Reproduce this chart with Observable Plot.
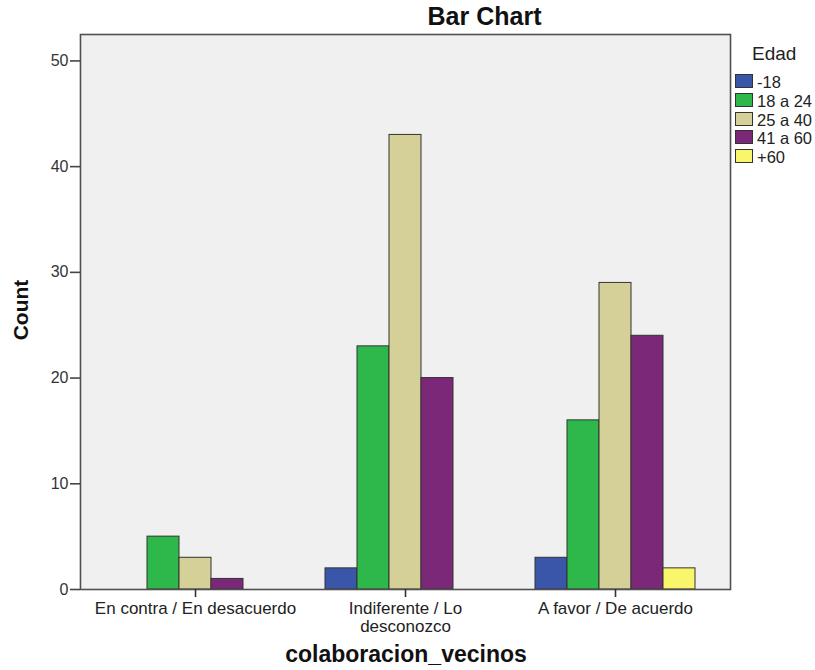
<!DOCTYPE html>
<html>
<head>
<meta charset="utf-8">
<script src="https://cdn.jsdelivr.net/npm/d3@7"></script>
<script src="https://cdn.jsdelivr.net/npm/@observablehq/plot@0.6"></script>
<style>
  html, body { margin: 0; padding: 0; background: #fff; }
  #wrap { position: relative; width: 815px; height: 670px; font-family: "Liberation Sans", Arial, sans-serif; }
  .abs { position: absolute; line-height: 1; white-space: nowrap; }
  #title { left: 484.5px; top: 4px; transform: translateX(-50%); font-size: 25px; font-weight: bold; color: #111; }
  #ylab { left: 20px; top: 310px; transform: translate(-50%, -50%) rotate(-90deg); font-size: 21px; font-weight: bold; color: #111; }
  #xlab { left: 406px; top: 642.5px; transform: translateX(-50%); font-size: 23px; font-weight: bold; color: #111; }
  #legtitle { left: 752px; top: 44px; font-size: 19px; color: #222; }
  .sw { position: absolute; left: 735px; width: 18px; height: 14px; border: 1px solid #333; box-sizing: border-box; }
  .lab { position: absolute; left: 757px; font-size: 16.5px; line-height: 1; color: #222; white-space: nowrap; }
</style>
</head>
<body>
<div id="wrap">
  <div id="chart"></div>
  <div id="title" class="abs">Bar Chart</div>
  <div id="ylab" class="abs">Count</div>
  <div id="xlab" class="abs">colaboracion_vecinos</div>
  <div id="legtitle" class="abs">Edad</div>
</div>
<script>
const categories = ["En contra / En desacuerdo", "Indiferente / Lo desconozco", "A favor / De acuerdo"];
const categoryTickLabels = ["En contra / En desacuerdo", "Indiferente / Lo\ndesconozco", "A favor / De acuerdo"];
const ages = ["-18", "18 a 24", "25 a 40", "41 a 60", "+60"];
const colors = ["#3a56a8", "#2eb84b", "#d4d097", "#7c2878", "#f9f66c"];
const countsUnder18 = [0, 2, 3];
const counts18to24 = [5, 23, 16];
const counts25to40 = [3, 43, 29];
const counts41to60 = [1, 20, 24];
const countsOver60 = [0, 0, 2];
const yTicks = [0, 10, 20, 30, 40, 50];

const series = [countsUnder18, counts18to24, counts25to40, counts41to60, countsOver60];
const data = [];
ages.forEach((a, i) => categories.forEach((c, j) => {
  if (series[i][j] > 0) data.push({category: c, age: a, count: series[i][j]});
}));

const W = 815, H = 670, mL = 79, mR = 83, mT = 34, mB = 81;
const pIn = 0.218, pOut = 0.1565;
const step = (W - mL - mR) / (categories.length - pIn + 2 * pOut);
const outerGap = pOut * step;

const chart = Plot.plot({
  width: W,
  height: H,
  marginLeft: mL,
  marginRight: mR,
  marginTop: mT,
  marginBottom: mB,
  style: {fontFamily: "Liberation Sans, Arial, sans-serif", fontSize: "15px", color: "#333", background: "transparent"},
  fx: {domain: categories, paddingInner: pIn, paddingOuter: pOut, label: null,
       tickFormat: d => categoryTickLabels[categories.indexOf(d)]},
  x: {domain: ages, padding: 0, axis: null},
  y: {domain: [0, 52.5], ticks: yTicks, label: null},
  color: {domain: ages, range: colors},
  marks: [
    Plot.frame({fill: "#f0f0f0", facet: "super", insetLeft: -outerGap, insetRight: -outerGap}),
    Plot.barY(data, {fx: "category", x: "age", y: "count", fill: "age", stroke: "#333", strokeWidth: 1}),
    Plot.frame({stroke: "#505050", strokeWidth: 1.6, facet: "super", insetLeft: -outerGap, insetRight: -outerGap}),
    Plot.axisY({ticks: yTicks, tickSize: 10, tickPadding: 2, fontSize: 16, dx: -outerGap, stroke: "#444", strokeWidth: 1.6, fill: "#333", label: null}),
    Plot.axisFx({anchor: "bottom", tickSize: 8, tickPadding: 4, fontSize: 17, lineHeight: 1.05, label: null,
                 stroke: "#333", strokeWidth: 1.6, fill: "#222",
                 tickFormat: d => categoryTickLabels[categories.indexOf(d)]})
  ]
});
document.getElementById("chart").appendChild(chart);

const wrap = document.getElementById("wrap");
ages.forEach((a, i) => {
  const top = 74 + i * 18.8;
  const s = document.createElement("div"); s.className = "sw"; s.style.background = colors[i]; s.style.top = top + "px";
  const l = document.createElement("div"); l.className = "lab"; l.textContent = a; l.style.top = top + "px";
  wrap.appendChild(s); wrap.appendChild(l);
});
</script>
</body>
</html>
